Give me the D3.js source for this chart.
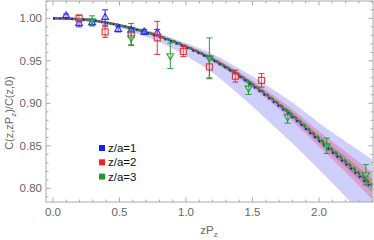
<!DOCTYPE html>
<html><head><meta charset="utf-8">
<script src="https://cdn.jsdelivr.net/npm/d3@7"></script>
<style>body{margin:0;background:#fff}svg{display:block;font-family:"Liberation Sans",Arial,sans-serif}</style>
</head><body><svg id="c" width="374" height="240"></svg>
<script>
// data series (z/a = 1, 2, 3)
const xs1 = [0.098,0.196,0.294,0.392,0.490,0.588,0.686,0.784];
const ys1 = [1.003,0.994,0.995,1.001,0.987,0.986,0.984,0.983];
const es1 = [0.002,0.004,0.003,0.009,0.003,0.003,0.003,0.004];
const xs2 = [0.196,0.392,0.588,0.784,0.980,1.176,1.372,1.568];
const ys2 = [1.000,0.984,0.981,0.977,0.961,0.943,0.932,0.927];
const es2 = [0.004,0.0065,0.013,0.0195,0.006,0.013,0.007,0.008];
const xs3 = [0.294,0.588,0.882,1.176,1.470,1.764,2.058,2.352];
const ys3 = [0.997,0.977,0.956,0.953,0.918,0.884,0.850,0.816];
const es3 = [0.006,0.008,0.015,0.024,0.0075,0.0073,0.009,0.012];
// fit curves and bands
const fitX   = [0,0.2,0.4,0.6,0.8,1.0,1.2,1.4,1.6,1.8,2.0,2.2,2.4];
const fit1   = [1.000,0.999,0.995,0.988,0.978,0.966,0.951,0.932,0.909,0.884,0.856,0.829,0.800];
const fit2   = [1.000,0.999,0.995,0.988,0.979,0.967,0.952,0.933,0.911,0.886,0.858,0.831,0.803];
const fit3   = [1.000,0.999,0.995,0.988,0.979,0.967,0.952,0.933,0.911,0.886,0.859,0.832,0.804];
const blueHi = [1.000,1.000,0.996,0.990,0.982,0.971,0.958,0.941,0.922,0.901,0.877,0.855,0.834];
const blueLo = [1.000,0.998,0.993,0.984,0.972,0.956,0.936,0.910,0.882,0.853,0.822,0.790,0.757];
const redHi  = [1.000,0.9995,0.9955,0.989,0.9805,0.969,0.955,0.937,0.916,0.893,0.867,0.843,0.819];
const redLo  = [1.000,0.9985,0.9945,0.987,0.9775,0.965,0.949,0.929,0.906,0.879,0.849,0.819,0.787];
const grnHi  = [1.000,0.999,0.995,0.9885,0.9795,0.968,0.9535,0.935,0.913,0.8895,0.8625,0.837,0.811];
const grnLo  = [1.000,0.999,0.995,0.9875,0.9785,0.966,0.9505,0.931,0.909,0.8825,0.8535,0.825,0.795];
const xTicks = [0.0,0.5,1.0,1.5,2.0];
const yTicks = [0.80,0.85,0.90,0.95,1.00];
const legendLabels = ["z/a=1","z/a=2","z/a=3"];
const colors = ["#1a1aff","#ee2222","#1a9a2a"];

const svg = d3.select("#c");
const L=46,R=373,T=1,B=202;
const x = d3.scaleLinear().domain([-0.0526,2.406]).range([L,R]);
const y = d3.scaleLinear().domain([0.7839,1.0204]).range([B,T]);

svg.append("clipPath").attr("id","clp").append("rect").attr("x",L).attr("y",T).attr("width",R-L).attr("height",B-T);
const g = svg.append("g").attr("clip-path","url(#clp)");

const band = (hi,lo)=>d3.area().x((d,i)=>x(fitX[i])).y0((d,i)=>y(lo[i])).y1((d,i)=>y(hi[i])).curve(d3.curveMonotoneX)(fitX);
g.append("path").attr("d",band(blueHi,blueLo)).attr("fill","rgba(95,95,245,0.30)");
g.append("path").attr("d",band(redHi,redLo)).attr("fill","rgba(235,90,150,0.40)");
g.append("path").attr("d",band(grnHi,grnLo)).attr("fill","rgba(90,140,80,0.42)");

const line = arr=>d3.line().x((d,i)=>x(fitX[i])).y((d,i)=>y(arr[i])).curve(d3.curveMonotoneX)(fitX);
[[fit1,colors[0],0,"2,4"],[fit2,colors[1],2,"2,4"],[fit3,colors[2],4,"3,3"]].forEach(([a,c,o,da])=>{
  g.append("path").attr("d",line(a)).attr("fill","none").attr("stroke",c).attr("stroke-width",2.6)
   .attr("stroke-dasharray",da).attr("stroke-dashoffset",o);
});

// frame and ticks
const fr = svg.append("g");
fr.append("rect").attr("x",L).attr("y",T).attr("width",R-L).attr("height",B-T).attr("fill","none").attr("stroke","#aaa").attr("stroke-width",1);
const tk = (x1,y1,x2,y2)=>fr.append("line").attr("x1",x1).attr("y1",y1).attr("x2",x2).attr("y2",y2).attr("stroke","#aaa").attr("stroke-width",1);
d3.range(0,25).forEach(i=>{const v=i*0.1; const px=x(v); const len=(i%5===0)?4.5:2.5; tk(px,B,px,B-len); tk(px,T,px,T+len);});
d3.range(78,103).forEach(i=>{const v=i/100; const py=y(v); if(py<T||py>B)return; const len=(i%5===0)?4.5:2.5; tk(L,py,L+len,py); tk(R,py,R-len,py);});
xTicks.forEach(v=>svg.append("text").attr("x",x(v)).attr("y",216).attr("text-anchor","middle").attr("font-size",11.5).attr("fill","#666").text(v.toFixed(1)));
yTicks.forEach(v=>svg.append("text").attr("x",L-4).attr("y",y(v)+4).attr("text-anchor","end").attr("font-size",11.5).attr("fill","#666").text(v.toFixed(2)));

// axis labels
const xl = svg.append("text").attr("x",209).attr("y",234).attr("text-anchor","middle").attr("font-size",11.5).attr("fill","#666");
xl.append("tspan").text("zP");
xl.append("tspan").attr("font-size",8).attr("dy",3).text("z");
const yl = svg.append("text").attr("transform","translate(13,113) rotate(-90)").attr("text-anchor","middle").attr("font-size",11).attr("fill","#666");
yl.append("tspan").text("C(z,zP");
yl.append("tspan").attr("font-size",8).attr("dy",3).text("z");
yl.append("tspan").attr("dy",-3).text(")/C(z,0)");

// points
const series = [[xs1,ys1,es1,"triU"],[xs2,ys2,es2,"sq"],[xs3,ys3,es3,"triD"]];
series.forEach(([xs,ys,es,m],k)=>{
  const c = colors[k];
  const sg = svg.append("g").attr("clip-path","url(#clp)");
  xs.forEach((xv,i)=>{
    const px=x(xv), py=y(ys[i]), p1=y(ys[i]+es[i]), p2=y(ys[i]-es[i]);
    sg.append("line").attr("x1",px).attr("x2",px).attr("y1",p1).attr("y2",p2).attr("stroke",c).attr("stroke-width",1.1).attr("opacity",0.85);
    [p1,p2].forEach(pp=>sg.append("line").attr("x1",px-3).attr("x2",px+3).attr("y1",pp).attr("y2",pp).attr("stroke",c).attr("stroke-width",1.1).attr("opacity",0.85));
    let sym;
    if(m==="sq") sym = d3.symbol().type(d3.symbolSquare).size(36);
    else sym = d3.symbol().type(d3.symbolTriangle).size(20);
    const s = sg.append("path").attr("d",sym()).attr("fill","rgba(255,255,255,0.3)").attr("stroke",c).attr("stroke-width",1.2).attr("opacity",0.85);
    s.attr("transform",`translate(${px},${py})`+(m==="triD"?" rotate(180)":""));
  });
});

// legend
legendLabels.forEach((t,i)=>{
  const cy = 148+i*14.3;
  svg.append("rect").attr("x",99).attr("y",cy-3).attr("width",6).attr("height",6).attr("fill",colors[i]);
  svg.append("text").attr("x",108).attr("y",cy+4).attr("font-size",11.5).attr("fill","#111").text(t);
});
</script></body></html>
